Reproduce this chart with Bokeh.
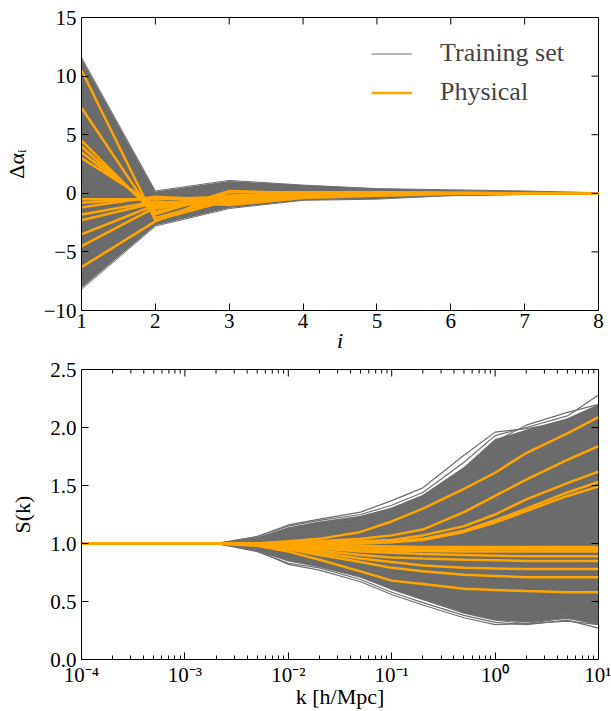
import math
from bokeh.plotting import figure
from bokeh.layouts import column
from bokeh.models import FixedTicker, Legend, LegendItem, CustomJSTickFormatter, Range1d
from bokeh.embed import file_html
from bokeh.resources import INLINE

# ---------------- data: top panel (Delta alpha_i vs i) ----------------
i_vals = [1, 2, 3, 4, 5, 6, 7, 8]
top_band_upper = [11.5, 0.15, 1.05, 0.7, 0.4, 0.28, 0.18, 0.04]
top_band_lower = [-8.1, -2.75, -1.25, -0.6, -0.48, -0.2, -0.1, -0.04]
top_training = [
    [11.6, 0.2, 1.1, 0.7, 0.4, 0.3, 0.2, 0.05],
    [-8.2, -2.8, -1.3, -0.6, -0.5, -0.2, -0.1, -0.05],
    [9.0, -1.5, 0.8, 0.5, 0.2, 0.1, 0.1, 0.0],
    [6.0, -2.5, 0.5, 0.3, 0.3, 0.2, 0.1, 0.0],
    [2.0, -0.5, -1.0, -0.4, -0.3, -0.1, 0.0, 0.0],
    [-2.5, 0.0, -0.5, 0.2, 0.1, 0.0, 0.0, 0.0],
    [-5.5, -1.8, 0.6, 0.4, 0.2, 0.1, 0.05, 0.0],
    [-7.0, -2.6, -1.1, -0.5, -0.3, -0.2, -0.1, 0.0],
    [0.5, -2.0, 0.3, -0.2, 0.0, 0.1, 0.0, 0.0],
    [4.0, 0.1, -0.8, -0.3, -0.2, 0.0, 0.0, 0.0],
]
top_physical = [
    [10.5, -2.3, -0.6, -0.3, -0.1, 0.0, 0.0, 0.0],
    [7.3, -2.1, -0.4, -0.2, 0.0, 0.05, 0.0, 0.0],
    [4.5, -1.8, 0.2, 0.0, 0.1, 0.0, 0.0, 0.0],
    [4.0, -1.6, -0.2, -0.1, 0.05, 0.0, 0.0, 0.0],
    [3.5, -1.3, -0.5, -0.3, 0.0, 0.0, 0.0, 0.0],
    [3.0, -1.0, -0.7, -0.2, -0.1, 0.0, 0.0, 0.0],
    [-0.5, -0.5, -0.3, 0.1, 0.1, 0.05, 0.0, 0.0],
    [-0.8, -0.4, -0.8, -0.3, -0.1, 0.0, 0.0, 0.0],
    [-1.2, -0.3, -0.6, -0.2, 0.0, 0.0, 0.0, 0.0],
    [-1.8, -0.7, -1.0, -0.4, -0.2, -0.05, 0.0, 0.0],
    [-2.3, -0.8, -0.9, -0.3, -0.1, 0.0, 0.0, 0.0],
    [-3.5, -1.0, -0.4, -0.1, 0.05, 0.0, 0.0, 0.0],
    [-4.5, -1.2, -0.2, 0.0, 0.1, 0.0, 0.0, 0.0],
    [-6.3, -2.4, 0.1, 0.1, 0.0, 0.0, 0.0, 0.0],
]
top_x_ticks = [1, 2, 3, 4, 5, 6, 7, 8]
top_y_ticks = [-10, -5, 0, 5, 10, 15]

# ---------------- data: bottom panel (S(k) vs k) ----------------
k_vals = [1e-4, 1e-3, 2e-3, 5e-3, 1e-2, 2e-2, 5e-2, 0.1, 0.2, 0.5, 1, 2, 5, 10]
bot_band_upper = [1, 1, 1.0, 1.05, 1.14, 1.19, 1.24, 1.31, 1.42, 1.66, 1.9, 1.98, 2.08, 2.2]
bot_band_lower = [1, 1, 1.0, 0.94, 0.85, 0.8, 0.71, 0.6, 0.51, 0.4, 0.34, 0.32, 0.35, 0.3]
bot_training = [
    [1, 1, 1, 1.06, 1.15, 1.20, 1.25, 1.33, 1.44, 1.70, 1.93, 2.00, 2.10, 2.28],
    [1, 1, 1, 1.06, 1.16, 1.21, 1.27, 1.37, 1.48, 1.76, 1.96, 1.99, 2.05, 2.16],
    [1, 1, 1, 1.05, 1.13, 1.18, 1.22, 1.28, 1.38, 1.62, 1.88, 2.02, 2.13, 2.20],
    [1, 1, 1, 1.04, 1.10, 1.15, 1.18, 1.24, 1.33, 1.55, 1.80, 1.95, 2.05, 2.12],
    [1, 1, 1, 1.03, 1.08, 1.12, 1.15, 1.20, 1.28, 1.45, 1.65, 1.80, 1.95, 2.02],
    [1, 1, 1, 1.02, 1.06, 1.09, 1.12, 1.16, 1.22, 1.35, 1.50, 1.65, 1.80, 1.90],
    [1, 1, 1, 1.02, 1.04, 1.06, 1.08, 1.11, 1.15, 1.25, 1.38, 1.50, 1.62, 1.70],
    [1, 1, 1, 1.01, 1.02, 1.03, 1.04, 1.06, 1.08, 1.14, 1.22, 1.30, 1.40, 1.45],
    [1, 1, 1, 1.00, 1.01, 1.01, 1.01, 1.02, 1.03, 1.05, 1.08, 1.12, 1.18, 1.22],
    [1, 1, 1, 1.00, 0.99, 0.98, 0.97, 0.96, 0.95, 0.94, 0.95, 0.97, 1.00, 1.02],
    [1, 1, 1, 0.99, 0.97, 0.95, 0.92, 0.89, 0.86, 0.83, 0.81, 0.80, 0.80, 0.82],
    [1, 1, 1, 0.98, 0.95, 0.91, 0.86, 0.81, 0.76, 0.70, 0.66, 0.63, 0.62, 0.65],
    [1, 1, 1, 0.97, 0.92, 0.87, 0.80, 0.73, 0.67, 0.58, 0.52, 0.49, 0.48, 0.50],
    [1, 1, 1, 0.96, 0.88, 0.83, 0.75, 0.66, 0.58, 0.47, 0.40, 0.37, 0.38, 0.40],
    [1, 1, 1, 0.94, 0.85, 0.80, 0.71, 0.61, 0.52, 0.40, 0.34, 0.31, 0.33, 0.30],
    [1, 1, 1, 0.93, 0.83, 0.79, 0.69, 0.58, 0.49, 0.38, 0.32, 0.30, 0.34, 0.27],
    [1, 1, 1, 0.94, 0.82, 0.77, 0.67, 0.56, 0.47, 0.36, 0.30, 0.31, 0.36, 0.33],
]
bot_physical = [
    [1, 1, 1, 1.00, 1.02, 1.04, 1.10, 1.19, 1.30, 1.47, 1.61, 1.78, 1.95, 2.09],
    [1, 1, 1, 1.00, 1.01, 1.02, 1.04, 1.07, 1.12, 1.27, 1.41, 1.55, 1.72, 1.84],
    [1, 1, 1, 1.00, 1.00, 1.01, 1.02, 1.03, 1.07, 1.15, 1.25, 1.38, 1.52, 1.62],
    [1, 1, 1, 1.00, 1.00, 1.00, 1.01, 1.02, 1.04, 1.11, 1.20, 1.30, 1.44, 1.53],
    [1, 1, 1, 1.00, 1.00, 1.00, 1.00, 1.01, 1.03, 1.10, 1.18, 1.28, 1.41, 1.49],
    [1, 1, 1, 1.00, 1.00, 0.99, 0.98, 0.975, 0.97, 0.97, 0.97, 0.97, 0.97, 0.97],
    [1, 1, 1, 1.00, 0.99, 0.98, 0.96, 0.955, 0.95, 0.95, 0.95, 0.95, 0.95, 0.95],
    [1, 1, 1, 1.00, 0.99, 0.97, 0.95, 0.94, 0.935, 0.93, 0.93, 0.93, 0.93, 0.93],
    [1, 1, 1, 1.00, 0.98, 0.96, 0.93, 0.92, 0.91, 0.90, 0.895, 0.89, 0.89, 0.89],
    [1, 1, 1, 0.99, 0.97, 0.94, 0.90, 0.88, 0.87, 0.86, 0.855, 0.85, 0.85, 0.85],
    [1, 1, 1, 0.99, 0.96, 0.92, 0.87, 0.84, 0.81, 0.79, 0.785, 0.78, 0.78, 0.78],
    [1, 1, 1, 0.99, 0.95, 0.90, 0.84, 0.79, 0.76, 0.73, 0.72, 0.71, 0.71, 0.71],
    [1, 1, 1, 0.98, 0.93, 0.86, 0.76, 0.68, 0.65, 0.61, 0.60, 0.59, 0.58, 0.58],
]
bot_x_ticks = [1e-4, 1e-3, 1e-2, 1e-1, 1, 10]
bot_x_minor = [m * d for d in [1e-4, 1e-3, 1e-2, 1e-1, 1] for m in range(2, 10)]
bot_y_ticks = [0.0, 0.5, 1.0, 1.5, 2.0, 2.5]

# ---------------- styling ----------------
FONT = "Liberation Serif"
GRAY = "#6e6e6e"
BAND = "#6b6b6b"
ORANGE = "#FFA500"
TICK_FS = "21px"
LABEL_FS = "22px"

minus_fmt = CustomJSTickFormatter(code="return tick < 0 ? '\\u2212' + Math.abs(tick) : String(tick);")
fixed1_fmt = CustomJSTickFormatter(code="return tick.toFixed(1);")
pow_fmt = CustomJSTickFormatter(code="""
const e = Math.round(Math.log10(tick));
const sup = {'-':'\\u207B','0':'\\u2070','1':'\\u00B9','2':'\\u00B2','3':'\\u00B3','4':'\\u2074','5':'\\u2075','6':'\\u2076','7':'\\u2077','8':'\\u2078','9':'\\u2079'};
return '10' + String(e).split('').map(c => sup[c]).join('');
""")


def style_axis(ax):
    ax.axis_line_color = "black"
    ax.axis_line_width = 1
    ax.major_tick_in = 7
    ax.major_tick_out = 0
    ax.minor_tick_in = 4
    ax.minor_tick_out = 0
    ax.major_tick_line_color = "black"
    ax.minor_tick_line_color = "black"
    ax.major_label_text_font = FONT
    ax.major_label_text_font_size = TICK_FS
    ax.major_label_text_color = "black"
    ax.major_label_standoff = 5
    ax.axis_label_text_font = FONT
    ax.axis_label_text_font_size = LABEL_FS
    ax.axis_label_text_font_style = "normal"
    ax.axis_label_text_color = "black"


def mirror_ticks(p, xticks, ytop, yticks, xright, xminor=None):
    # tick marks on the top and right edges, pointing inward (screen-length rays)
    p.ray(x=xticks, y=[ytop] * len(xticks), length=7, length_units="screen",
          angle=-math.pi / 2, line_color="black", line_width=1)
    p.ray(x=[xright] * len(yticks), y=yticks, length=7, length_units="screen",
          angle=math.pi, line_color="black", line_width=1)
    if xminor:
        p.ray(x=xminor, y=[ytop] * len(xminor), length=4, length_units="screen",
              angle=-math.pi / 2, line_color="black", line_width=1)


# ---------------- top figure ----------------
p1 = figure(width=611, height=355, x_range=Range1d(1, 8), y_range=Range1d(-10, 15),
            output_backend="svg", toolbar_location=None,
            min_border_left=78, min_border_right=13, min_border_top=17, min_border_bottom=45)
p1.grid.visible = False
p1.outline_line_color = "black"

p1.varea(x=i_vals, y1=top_band_lower, y2=top_band_upper, fill_color=BAND, fill_alpha=1)
g1 = p1.multi_line(xs=[i_vals] * len(top_training), ys=top_training, line_color=GRAY, line_width=1)
o1 = p1.multi_line(xs=[i_vals] * len(top_physical), ys=top_physical, line_color=ORANGE, line_width=2.5)
mirror_ticks(p1, top_x_ticks, 15, top_y_ticks, 8)

p1.xaxis.ticker = FixedTicker(ticks=top_x_ticks)
p1.yaxis.ticker = FixedTicker(ticks=top_y_ticks)
p1.yaxis.formatter = minus_fmt
p1.xaxis.axis_label = "i"
p1.yaxis.axis_label = "\u0394\u03b1\u1d62"
for ax in p1.xaxis + p1.yaxis:
    style_axis(ax)
p1.xaxis.axis_label_text_font_style = "italic"
p1.xaxis.major_label_standoff = 3
p1.xaxis.axis_label_standoff = -3
p1.yaxis.axis_label_standoff = 12

legend = Legend(items=[LegendItem(label="Training set", renderers=[g1]),
                       LegendItem(label="Physical", renderers=[o1])],
                location=(290, 203))
legend.border_line_color = None
legend.background_fill_alpha = 0
legend.label_text_font = FONT
legend.label_text_font_size = "26px"
legend.glyph_width = 41
legend.glyph_height = 27
legend.label_height = 27
legend.label_standoff = 28
legend.spacing = 9
legend.padding = 10
legend.margin = 0
p1.add_layout(legend)

# ---------------- bottom figure ----------------
p2 = figure(width=611, height=356, x_axis_type="log", x_range=Range1d(1e-4, 10),
            y_range=Range1d(0, 2.5), output_backend="svg", toolbar_location=None,
            min_border_left=78, min_border_right=13, min_border_top=14, min_border_bottom=49)
p2.grid.visible = False
p2.outline_line_color = "black"

p2.varea(x=k_vals, y1=bot_band_lower, y2=bot_band_upper, fill_color=BAND, fill_alpha=1)
p2.multi_line(xs=[k_vals] * len(bot_training), ys=bot_training, line_color=GRAY, line_width=1.2)
p2.multi_line(xs=[k_vals] * len(bot_physical), ys=bot_physical, line_color=ORANGE, line_width=2.5)
mirror_ticks(p2, bot_x_ticks, 2.5, bot_y_ticks, 10, bot_x_minor)

p2.xaxis.ticker = FixedTicker(ticks=bot_x_ticks, minor_ticks=bot_x_minor)
p2.xaxis.formatter = pow_fmt
p2.yaxis.ticker = FixedTicker(ticks=bot_y_ticks)
p2.yaxis.formatter = fixed1_fmt
p2.xaxis.axis_label = "k [h/Mpc]"
p2.yaxis.axis_label = "S(k)"
for ax in p2.xaxis + p2.yaxis:
    style_axis(ax)
p2.xaxis.major_label_standoff = 3
p2.xaxis.axis_label_standoff = -6
p2.yaxis.axis_label_standoff = 12

layout = column(p1, p2, spacing=0)
open("out.html", "w", encoding="utf-8").write(file_html(layout, INLINE))
